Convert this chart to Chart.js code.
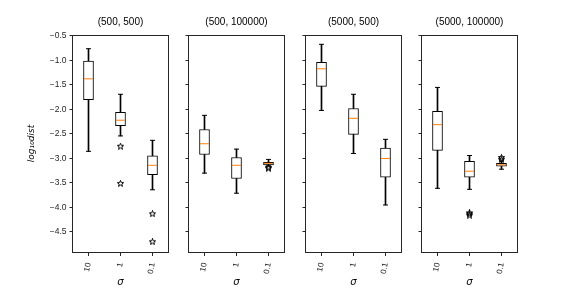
<!DOCTYPE html>
<html>
<head>
<meta charset="utf-8">
<script src="https://cdn.jsdelivr.net/npm/chart.js@4/dist/chart.umd.min.js"></script>
<style>
  body { margin: 0; background: #fff; }
  #wrap { position: relative; width: 576px; height: 288px; }
  #wrap canvas { position: absolute; left: 0; top: 0; }
</style>
</head>
<body>
<div id="wrap">
  <canvas id="c0" width="576" height="288"></canvas>
  <canvas id="c1" width="576" height="288"></canvas>
  <canvas id="c2" width="576" height="288"></canvas>
  <canvas id="c3" width="576" height="288"></canvas>
</div>
<script>
// one panel per (n, m) setting, three sigma values each
var titles = ['(500, 500)', '(500, 100000)', '(5000, 500)', '(5000, 100000)'];
var sigmaLabels = ['10', '1', '0.1'];
var yTicks = [-0.5, -1.0, -1.5, -2.0, -2.5, -3.0, -3.5, -4.0, -4.5];

// box plot statistics (log10 dist)
var whiskerHigh = [[-0.76, -1.69, -2.63], [-2.12, -2.81, -3.02], [-0.67, -1.69, -2.61], [-1.55, -2.94, -3.05]];
var q3 =          [[-1.01, -2.06, -2.945], [-2.41, -2.98, -3.08], [-1.04, -1.98, -2.79], [-2.04, -3.06, -3.10]];
var medians =     [[-1.375, -2.22, -3.14], [-2.70, -3.14, -3.10], [-1.17, -2.18, -3.00], [-2.31, -3.26, -3.13]];
var q1 =          [[-1.80, -2.33, -3.33], [-2.92, -3.41, -3.13], [-1.53, -2.51, -3.38], [-2.835, -3.38, -3.16]];
var whiskerLow =  [[-2.855, -2.54, -3.64], [-3.30, -3.71, -3.15], [-2.02, -2.90, -3.95], [-3.61, -3.63, -3.22]];
var outliers = [
  [[], [-2.75, -3.51], [-4.13, -4.70]],
  [[], [], [-3.18, -3.20]],
  [[], [], []],
  [[], [-4.11, -4.13, -4.16], [-2.98, -3.02]]
];

var panelLeft = [72, 188, 305, 421];
var panelWidth = 96;

// hollow star marker
function makeStar() {
  var c = document.createElement('canvas');
  c.width = 7; c.height = 7;
  var g = c.getContext('2d');
  g.beginPath();
  for (var i = 0; i < 10; i++) {
    var r = i % 2 === 0 ? 3.3 : 1.4;
    var a = -Math.PI / 2 + i * Math.PI / 5;
    var px = 3.5 + r * Math.cos(a), py = 3.7 + r * Math.sin(a);
    if (i === 0) g.moveTo(px, py); else g.lineTo(px, py);
  }
  g.closePath();
  g.strokeStyle = '#000';
  g.lineWidth = 1;
  g.stroke();
  return c;
}
var star = makeStar();

var framePlugin = {
  id: 'frame',
  afterDatasetsDraw: function(chart) {
    var a = chart.chartArea, ctx = chart.ctx;
    ctx.save();
    ctx.strokeStyle = '#262626';
    ctx.lineWidth = 1;
    ctx.strokeRect(Math.floor(a.left) + 0.5, Math.round(a.top) + 0.5,
                   Math.round(a.right - a.left), Math.round(a.bottom - a.top));
    ctx.restore();
  }
};

function pairs(lo, hi) {
  return lo.map(function(v, i) { return [v, hi[i]]; });
}

function buildPanel(p) {
  var first = p === 0;
  var yWidth = first ? 46 : 6;
  var outData = [];
  outliers[p].forEach(function(list, i) {
    list.forEach(function(v) { outData.push({ x: sigmaLabels[i], y: v }); });
  });

  new Chart(document.getElementById('c' + p), {
    type: 'bar',
    data: {
      labels: sigmaLabels,
      datasets: [
        { label: 'lower whisker', data: pairs(whiskerLow[p], q1[p]), backgroundColor: '#000',
          barThickness: 1, grouped: false, order: 5 },
        { label: 'upper whisker', data: pairs(q3[p], whiskerHigh[p]), backgroundColor: '#000',
          barThickness: 1, grouped: false, order: 5 },
        { label: 'box', data: pairs(q1[p], q3[p]), backgroundColor: '#fff', borderColor: '#000',
          borderWidth: 1, borderSkipped: false, barThickness: 10, grouped: false, order: 4 },
        { type: 'line', label: 'caps high', data: whiskerHigh[p], showLine: false,
          pointStyle: 'line', pointRadius: 2.5, pointBorderColor: '#000', pointBorderWidth: 1, order: 3 },
        { type: 'line', label: 'caps low', data: whiskerLow[p], showLine: false,
          pointStyle: 'line', pointRadius: 2.5, pointBorderColor: '#000', pointBorderWidth: 1, order: 3 },
        { type: 'line', label: 'median', data: medians[p], showLine: false,
          pointStyle: 'line', pointRadius: 4.6, pointBorderColor: '#ff7f0e', pointBorderWidth: 1, order: 2 },
        { type: 'line', label: 'outliers', data: outData, showLine: false,
          pointStyle: star, pointRadius: 3, order: 1 }
      ]
    },
    options: {
      responsive: false,
      animation: false,
      events: [],
      layout: {
        // half-pixel shift so box centres land on pixel centres
        padding: { left: panelLeft[p] - yWidth + 0.5, right: 576 - panelLeft[p] - panelWidth - 0.5, top: 16, bottom: 0 }
      },
      plugins: {
        legend: { display: false },
        tooltip: { enabled: false },
        title: {
          display: true, text: titles[p], fullSize: false, color: '#000',
          font: { family: 'Liberation Sans', size: 10, weight: 'normal' },
          padding: { top: 0, bottom: 7 }
        }
      },
      scales: {
        x: {
          offset: true,
          afterFit: function(s) { s.height = 36; },
          grid: { offset: false, drawOnChartArea: false, tickLength: 4, color: '#262626' },
          border: { display: false },
          ticks: { color: '#262626', minRotation: 80, maxRotation: 80, padding: 6,
                   font: { family: 'Liberation Sans', size: 8 } },
          title: { display: true, text: 'σ', color: '#000', padding: { top: 0, bottom: 0 },
                   font: { family: 'DejaVu Sans', size: 10, style: 'italic' } }
        },
        y: {
          min: -4.91, max: -0.48,
          afterBuildTicks: function(s) { s.ticks = yTicks.map(function(v) { return { value: v }; }); },
          afterFit: function(s) { s.width = yWidth; },
          grid: { drawOnChartArea: false, tickLength: 3, color: '#262626' },
          border: { display: false },
          ticks: {
            display: first, color: '#262626', padding: 3,
            font: { family: 'Liberation Sans', size: 8.5 },
            callback: function(v) { return '\u2212' + Math.abs(v).toFixed(1); }
          },
          title: { display: first, text: 'log\u2081\u2080dist', color: '#000', padding: { top: 0, bottom: 2 },
                   font: { family: 'DejaVu Sans', size: 9, style: 'italic' } }
        }
      }
    },
    plugins: [framePlugin]
  });
}

for (var p = 0; p < 4; p++) buildPanel(p);
</script>
</body>
</html>
